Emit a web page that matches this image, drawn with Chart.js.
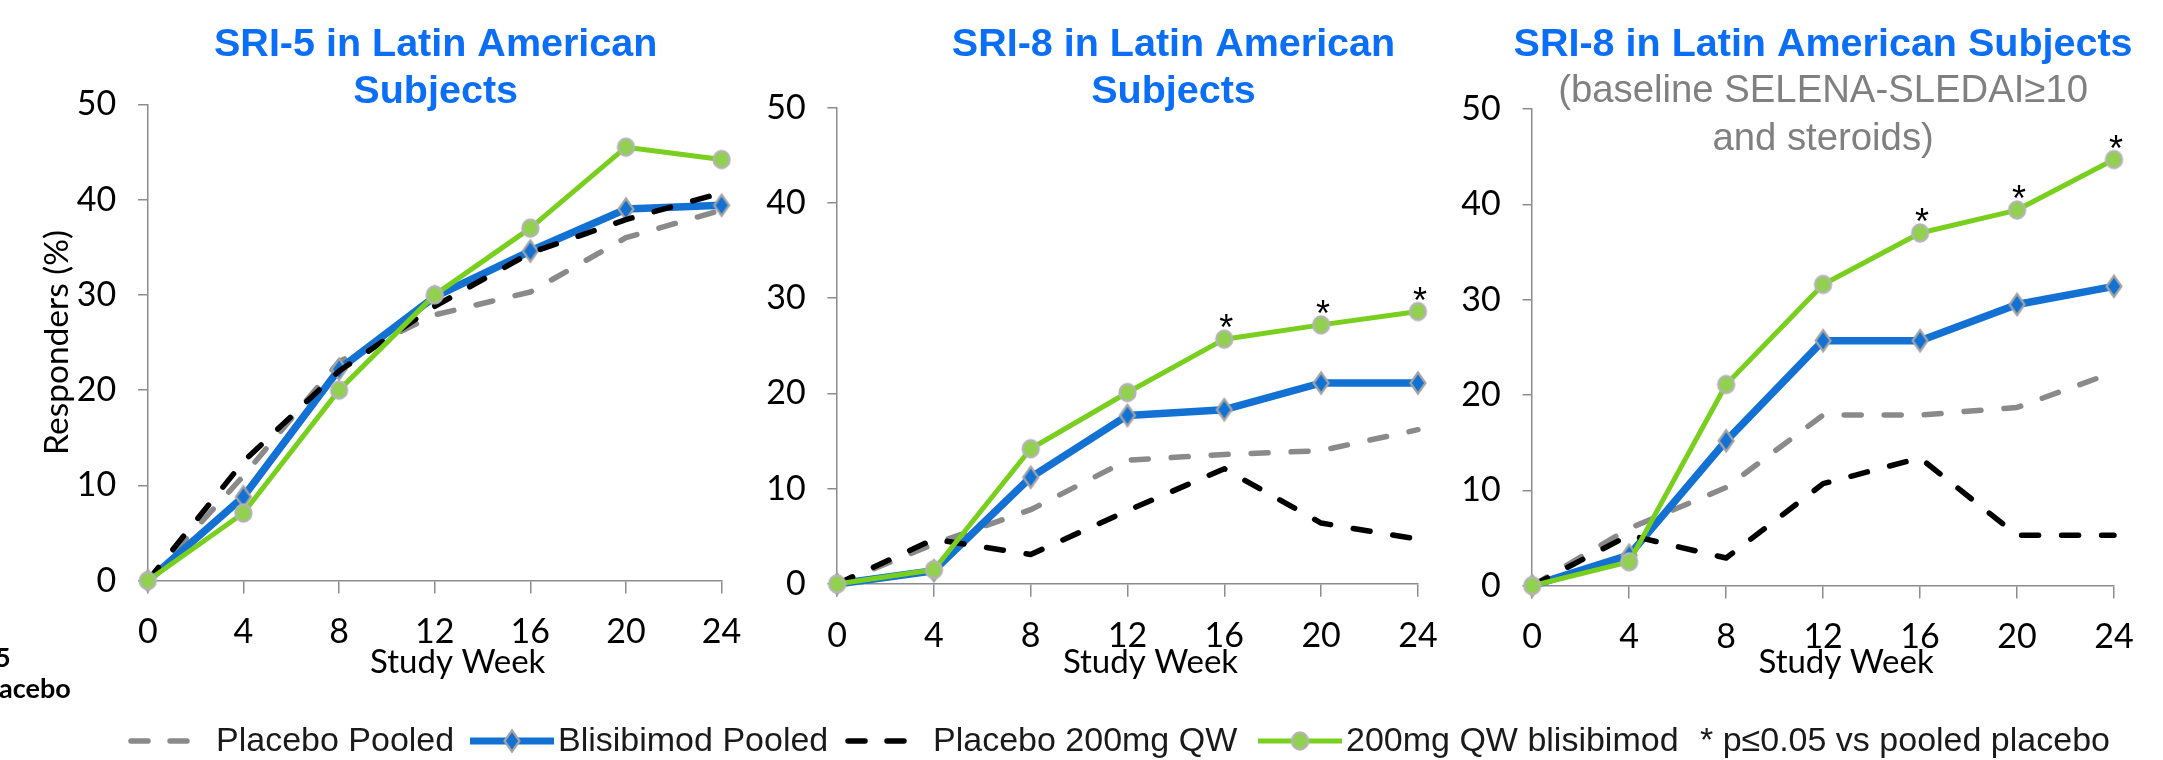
<!DOCTYPE html>
<html>
<head>
<meta charset="utf-8">
<script src="https://cdn.jsdelivr.net/npm/chart.js@4.4.1/dist/chart.umd.min.js"></script>
<style>
  html, body { margin: 0; padding: 0; background: #fff; }
  #stage { position: relative; width: 2163px; height: 760px; overflow: hidden; background: #fff; }
  #stage canvas { position: absolute; top: 0; }
</style>
</head>
<body>
<div id="stage">
  <canvas id="p1" width="760" height="705" style="left:0px"></canvas>
  <canvas id="p2" width="700" height="705" style="left:760px"></canvas>
  <canvas id="p3" width="703" height="705" style="left:1460px"></canvas>
  <canvas id="legend" width="2163" height="60" style="top:700px;left:0px"></canvas>
</div>
<script>
// ---- data -------------------------------------------------------------
const weeks = [0, 4, 8, 12, 16, 20, 24];
const seriesNames = ['Placebo Pooled', 'Blisibimod Pooled', 'Placebo 200mg QW', '200mg QW blisibimod'];

// SRI-5, Latin American subjects (% responders)
const sri5PlaceboPooled = [0, 11.0, 23.0, 27.9, 30.3, 36.0, 38.9];
const sri5BlisPooled    = [0, 8.8, 22.2, 29.8, 34.6, 39.0, 39.4];
const sri5Placebo200    = [0, 12.5, 22.0, 28.8, 34.4, 37.9, 40.7];
const sri5Blis200       = [0, 7.1, 20.0, 30.0, 37.0, 45.5, 44.2];

// SRI-8, Latin American subjects
const sri8PlaceboPooled = [0, 4.2, 7.8, 13.0, 13.6, 14.0, 16.2];
const sri8BlisPooled    = [0, 1.4, 11.2, 17.7, 18.3, 21.1, 21.1];
const sri8Placebo200    = [0, 4.7, 3.1, 7.7, 12.1, 6.4, 4.7];
const sri8Blis200       = [0, 1.5, 14.2, 20.1, 25.7, 27.2, 28.6];
const sri8SigWeeks      = [16, 20, 24];

// SRI-8, baseline SELENA-SLEDAI >= 10 and steroids
const sri8hPlaceboPooled = [0, 6.0, 10.3, 17.9, 17.9, 18.7, 22.4];
const sri8hBlisPooled    = [0, 3.2, 15.2, 25.7, 25.7, 29.5, 31.4];
const sri8hPlacebo200    = [0, 5.3, 2.9, 10.7, 13.4, 5.3, 5.3];
const sri8hBlis200       = [0, 2.5, 21.1, 31.6, 37.0, 39.4, 44.7];
const sri8hSigWeeks      = [16, 20, 24];

const panelTitles   = [['SRI-5 in Latin American', 'Subjects'],
                       ['SRI-8 in Latin American', 'Subjects'],
                       ['SRI-8 in Latin American Subjects']];
const panel3Subtitle = ['(baseline SELENA-SLEDAI\u226510', 'and steroids)'];
const xAxisTitle = 'Study Week';
const yAxisTitle = 'Responders (%)';
const sigNote = '* p\u22640.05 vs pooled placebo';
const sideNote = ['5', 'acebo'];

// ---- styles -----------------------------------------------------------
const C = {
  title: '#0b6ef6', sub: '#808080', blue: '#1271d3', green: '#78cf1e',
  gray: '#8a8a8a', black: '#000000', axis: '#8c8c8c', text: '#000000',
  legendText: '#1a1a1a', mFill: '#92d050', mEdge: '#b4b4b4', dEdge: '#a3a3a3'
};
const TITLE_FONT = 'bold 39.5px "Liberation Sans", Arial, sans-serif';
const SUB_FONT = '38.3px "Liberation Sans", Arial, sans-serif';
const XTITLE_FONT = '33px Lato, sans-serif';
const TICK_FONT = { family: 'Lato', size: 34 };
const DASH = [17, 23];

Chart.defaults.font.family = 'Lato';

function diamondMark(w, h, lw) {
  const c = document.createElement('canvas');
  c.width = Math.ceil(w + lw * 2); c.height = Math.ceil(h + lw * 2);
  const g = c.getContext('2d');
  const cx = c.width / 2, cy = c.height / 2;
  g.beginPath();
  g.moveTo(cx, cy - h / 2); g.lineTo(cx + w / 2, cy);
  g.lineTo(cx, cy + h / 2); g.lineTo(cx - w / 2, cy);
  g.closePath();
  g.fillStyle = C.blue; g.fill();
  g.lineWidth = lw; g.strokeStyle = C.dEdge; g.stroke();
  return c;
}
function circleMark(rx, ry, lw) {
  const c = document.createElement('canvas');
  c.width = Math.ceil(rx * 2 + lw * 2); c.height = Math.ceil(ry * 2 + lw * 2);
  const g = c.getContext('2d');
  g.beginPath();
  g.ellipse(c.width / 2, c.height / 2, rx, ry, 0, 0, Math.PI * 2);
  g.fillStyle = C.mFill; g.fill();
  g.lineWidth = lw; g.strokeStyle = C.mEdge; g.stroke();
  return c;
}
const DIAMOND = diamondMark(15, 21, 2.2);
const CIRCLE = circleMark(8, 8.5, 2.4);

// Titles, axis caption, significance stars and side notes
const panelText = {
  id: 'panelText',
  afterDatasetsDraw(chart, args, o) {
    const { ctx, chartArea: a } = chart;
    const cx = (a.left + a.right) / 2;
    ctx.save();
    ctx.textBaseline = 'alphabetic';
    for (const t of (o.items || [])) {
      ctx.font = t.font;
      ctx.fillStyle = t.color;
      ctx.textAlign = t.align || 'center';
      const x = (t.x !== undefined) ? t.x : cx + (t.dx || 0);
      ctx.fillText(t.text, x, t.y);
    }
    if (o.sigWeeks) {
      const meta = chart.getDatasetMeta(3);
      ctx.font = '36px "Liberation Sans", Arial, sans-serif';
      ctx.fillStyle = '#000';
      ctx.textAlign = 'center';
      for (const w of o.sigWeeks) {
        const pt = meta.data[weeks.indexOf(w)];
        ctx.fillText('*', pt.x + 2, pt.y + 1);
      }
    }
    ctx.restore();
  }
};

function buildPanel(id, p) {
  const items = [];
  p.title.forEach((line, i) => items.push({ text: line, font: TITLE_FONT, color: C.title, dx: p.titleDx, y: p.titleY[i] }));
  (p.subtitle || []).forEach((line, i) => items.push({ text: line, font: SUB_FONT, color: C.sub, dx: 0, y: p.subY[i] }));
  items.push({ text: xAxisTitle, font: XTITLE_FONT, color: C.text, dx: 23, y: 673 });
  (p.extra || []).forEach(t => items.push(t));

  return new Chart(document.getElementById(id), {
    type: 'line',
    data: {
      labels: weeks,
      datasets: [
        { label: seriesNames[0], data: p.series[0], borderColor: C.gray, borderWidth: 5.5,
          borderDash: DASH, borderCapStyle: 'round', borderJoinStyle: 'round', pointRadius: 0, order: 3, clip: false },
        { label: seriesNames[1], data: p.series[1], borderColor: C.blue, borderWidth: 7.5,
          borderJoinStyle: 'round', pointStyle: DIAMOND, pointRadius: 10, order: 2, clip: false },
        { label: seriesNames[2], data: p.series[2], borderColor: C.black, borderWidth: 5.5,
          borderDash: DASH, borderCapStyle: 'round', borderJoinStyle: 'round', pointRadius: 0, order: 1, clip: false },
        { label: seriesNames[3], data: p.series[3], borderColor: C.green, borderWidth: 5,
          borderJoinStyle: 'round', pointStyle: CIRCLE, pointRadius: 9, order: 0, clip: false }
      ]
    },
    options: {
      responsive: false,
      animation: false,
      devicePixelRatio: 1,
      events: [],
      layout: { autoPadding: false, padding: { top: p.top, left: 0, right: p.padRight, bottom: 0 } },
      scales: {
        x: {
          type: 'category', offset: false,
          grid: { display: true, drawOnChartArea: false, drawTicks: true, tickLength: 12.7, color: C.axis, lineWidth: 1.5 },
          border: { display: true, color: C.axis, width: 1.5 },
          ticks: { font: TICK_FONT, color: C.text, padding: 18.7, maxRotation: 0, autoSkip: false },
          afterFit: s => { s.height = p.xAxisH; }
        },
        y: {
          min: 0, max: 50,
          grid: { display: true, drawOnChartArea: false, drawTicks: true, tickLength: 9.7, color: C.axis, lineWidth: 1.5 },
          border: { display: true, color: C.axis, width: 1.5 },
          ticks: { stepSize: 10, font: TICK_FONT, color: C.text, padding: 21.8 },
          title: p.yTitle
            ? { display: true, text: yAxisTitle, color: C.text, font: { family: 'Lato', size: 33.5 }, padding: { top: 37, bottom: 0 } }
            : { display: false },
          afterFit: s => { s.width = p.yAxisW; }
        }
      },
      plugins: {
        legend: { display: false },
        title: { display: false },
        tooltip: { enabled: false },
        panelText: { items, sigWeeks: p.sig }
      }
    },
    plugins: [panelText]
  });
}

buildPanel('p1', {
  series: [sri5PlaceboPooled, sri5BlisPooled, sri5Placebo200, sri5Blis200],
  title: panelTitles[0], titleDx: 1, titleY: [56, 102.5],
  top: 104.3, padRight: 30.5, yAxisW: 147.8, xAxisH: 124.3, yTitle: true,
  extra: [
    { text: sideNote[0], font: 'bold 27px Lato, sans-serif', color: '#000', align: 'left', x: -5, y: 666.5 },
    { text: sideNote[1], font: 'bold 27px Lato, sans-serif', color: '#000', align: 'left', x: -1, y: 698 }
  ]
});
buildPanel('p2', {
  series: [sri8PlaceboPooled, sri8BlisPooled, sri8Placebo200, sri8Blis200],
  title: panelTitles[1], titleDx: 46, titleY: [55.5, 102.5],
  top: 107.7, padRight: 42.1, yAxisW: 77.1, xAxisH: 121, sig: sri8SigWeeks
});
buildPanel('p3', {
  series: [sri8hPlaceboPooled, sri8hBlisPooled, sri8hPlacebo200, sri8hBlis200],
  title: panelTitles[2], titleDx: 0, titleY: [55.5],
  subtitle: panel3Subtitle, subY: [101.5, 149.5],
  top: 109, padRight: 49, yAxisW: 72.2, xAxisH: 119.3, sig: sri8hSigWeeks
});

// ---- shared legend row ------------------------------------------------
(function drawLegend() {
  const g = document.getElementById('legend').getContext('2d');
  const y = 41, base = 51;
  function sample(x1, x2, color, width, dash) {
    g.save();
    g.strokeStyle = color; g.lineWidth = width; g.lineCap = dash ? 'round' : 'butt';
    g.setLineDash(dash || []);
    g.beginPath(); g.moveTo(x1, y); g.lineTo(x2, y); g.stroke();
    g.restore();
  }
  function label(text, x) {
    g.font = '34px "Liberation Sans", Arial, sans-serif';
    g.fillStyle = C.legendText; g.textAlign = 'left'; g.textBaseline = 'alphabetic';
    g.fillText(text, x, base);
  }
  sample(131, 189, C.gray, 5.5, [17, 22]);
  label(seriesNames[0], 216);
  sample(470, 554, C.blue, 7);
  g.drawImage(DIAMOND, 512 - DIAMOND.width / 2, y - DIAMOND.height / 2);
  label(seriesNames[1], 558);
  sample(848, 907, C.black, 5.5, [17, 22]);
  label(seriesNames[2], 933);
  sample(1258, 1342, C.green, 5);
  g.drawImage(CIRCLE, 1300 - CIRCLE.width / 2, y - CIRCLE.height / 2);
  label(seriesNames[3], 1346);
  label(sigNote, 1700);
})();
</script>
</body>
</html>
